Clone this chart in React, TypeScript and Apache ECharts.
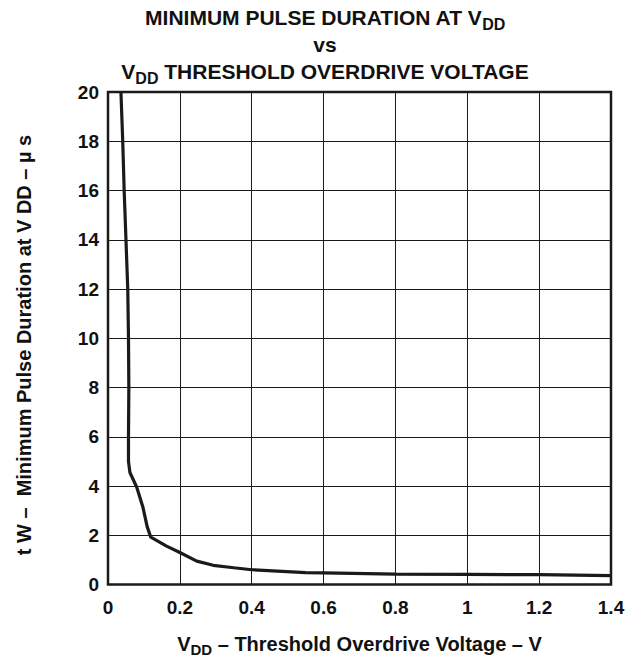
import React, { useEffect, useRef } from "react";
import * as echarts from "echarts";

const xTicks = [0, 0.2, 0.4, 0.6, 0.8, 1, 1.2, 1.4];
const yTicks = [0, 2, 4, 6, 8, 10, 12, 14, 16, 18, 20];
const overdriveV = [0.036, 0.041, 0.045, 0.05, 0.055, 0.057, 0.058, 0.057, 0.057, 0.061, 0.08, 0.097, 0.109, 0.119, 0.163, 0.2, 0.247, 0.293, 0.35, 0.4, 0.55, 0.6, 0.8, 1.0, 1.2, 1.4];
const pulseUs = [20, 18, 16, 14, 12, 10, 8, 6, 5, 4.55, 3.95, 3.15, 2.35, 1.92, 1.56, 1.3, 0.95, 0.78, 0.68, 0.6, 0.48, 0.47, 0.42, 0.41, 0.4, 0.36];

const FONT = "'Liberation Sans', Arial, sans-serif";

export default function App() {
  const ref = useRef<HTMLDivElement>(null);
  useEffect(() => {
    if (!ref.current) return;
    const chart = echarts.init(ref.current, undefined, { renderer: "svg" });
    const data = overdriveV.map((v, i) => [v, pulseUs[i]]);
    chart.setOption({
      animation: false,
      backgroundColor: "#ffffff",
      textStyle: { fontFamily: FONT },
      grid: {
        left: 108, top: 92, right: 17, bottom: 69,
        show: true, borderColor: "#1a1a1a", borderWidth: 2.5, backgroundColor: "transparent",
      },
      title: {
        text: "{n|MINIMUM PULSE DURATION AT V}{s|DD}\n{n|vs}\n{n|V}{s|DD}{n| THRESHOLD OVERDRIVE VOLTAGE}",
        left: 320, top: -1, textAlign: "center",
        textStyle: {
          rich: {
            n: { fontFamily: FONT, fontWeight: "bold", fontSize: 21, color: "#111", lineHeight: 27, verticalAlign: "middle" },
            s: { fontFamily: FONT, fontWeight: "bold", fontSize: 16, color: "#111", lineHeight: 13, padding: [14, 0, 0, 0], verticalAlign: "middle" },
          },
        },
      },
      graphic: [
        {
          type: "text", x: 24, y: 345, rotation: Math.PI / 2,
          style: {
            text: "t W –  Minimum Pulse Duration at V DD – µ s",
            fontFamily: FONT, fontWeight: "bold", fontSize: 20, fill: "#111",
            textAlign: "center", textVerticalAlign: "middle",
          },
        },
      ],
      xAxis: {
        type: "value", min: 0, max: 1.4, interval: 0.2,
        axisLine: { show: false }, axisTick: { show: false },
        axisLabel: {
          color: "#111", fontWeight: "bold", fontSize: 19, fontFamily: FONT, margin: 13,
          formatter: (v: number) => String(Math.round(v * 10) / 10),
        },
        splitLine: { show: true, lineStyle: { color: "#1a1a1a", width: 1 } },
        name: "{n|V}{s|DD}{n| – Threshold Overdrive Voltage – V}",
        nameLocation: "middle", nameGap: 47,
        nameTextStyle: {
          rich: {
            n: { fontFamily: FONT, fontWeight: "bold", fontSize: 20, color: "#111", lineHeight: 24, verticalAlign: "middle" },
            s: { fontFamily: FONT, fontWeight: "bold", fontSize: 15, color: "#111", lineHeight: 12, padding: [12, 0, 0, 0], verticalAlign: "middle" },
          },
        },
      },
      yAxis: {
        type: "value", min: 0, max: 20, interval: 2,
        axisLine: { show: false }, axisTick: { show: false },
        axisLabel: { color: "#111", fontWeight: "bold", fontSize: 19, fontFamily: FONT, margin: 9 },
        splitLine: { show: true, lineStyle: { color: "#1a1a1a", width: 1 } },
      },
      series: [
        {
          type: "line", data, showSymbol: false, smooth: false,
          lineStyle: { color: "#1a1a1a", width: 3.2 },
        },
      ],
    });
    return () => chart.dispose();
  }, []);
  return <div ref={ref} style={{ width: 628, height: 662, position: "absolute", left: 0, top: 0 }} />;
}
